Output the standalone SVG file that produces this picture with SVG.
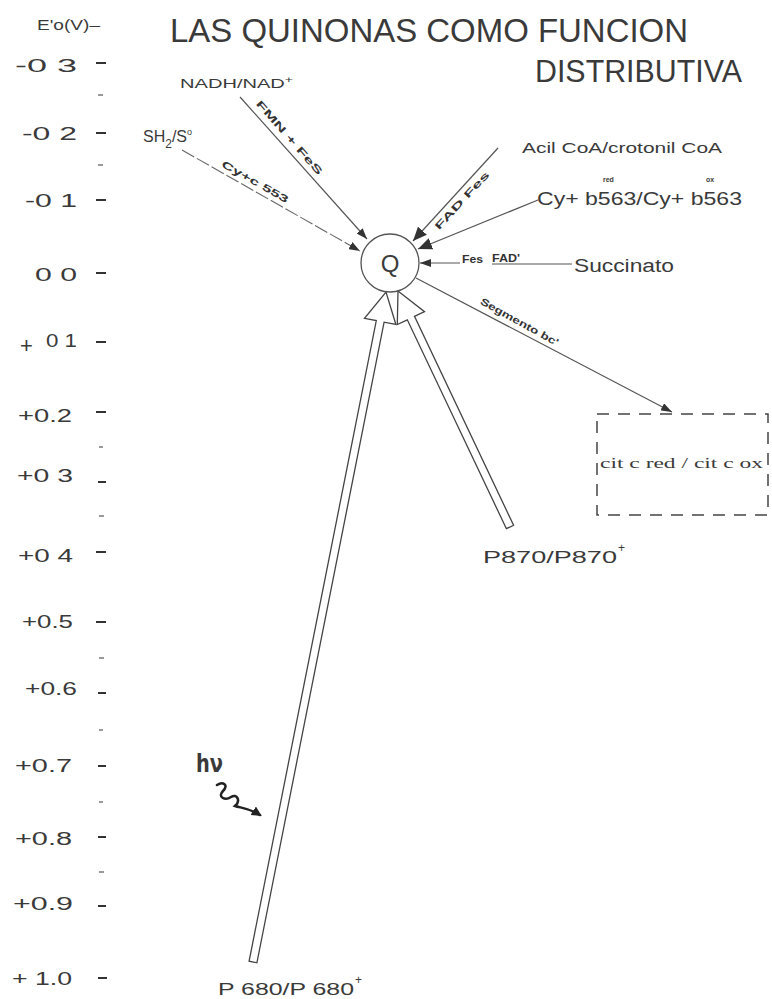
<svg xmlns="http://www.w3.org/2000/svg" width="772" height="999" viewBox="0 0 772 999">
<defs>
<style>
text{font-family:"Liberation Sans","DejaVu Sans",sans-serif;fill:#3a3a3a}
.ax{font-size:18px}
.tick{stroke:#333;stroke-width:2}
.mtick{stroke:#555;stroke-width:1.2}
.lbl{font-size:10px;font-weight:bold;fill:#333}
.ln{stroke:#555;stroke-width:1.2;fill:none}
.hollow{stroke:#444;stroke-width:1.3;fill:none;stroke-linejoin:miter}
</style>
<marker id="arr" viewBox="0 0 11 8" refX="11" refY="4" markerUnits="userSpaceOnUse" markerWidth="11" markerHeight="8" orient="auto">
<path d="M0,0 L11,4 L0,8 z" fill="#333"/>
</marker>
<marker id="arrB" viewBox="0 0 14 12" refX="14" refY="6" markerUnits="userSpaceOnUse" markerWidth="14" markerHeight="12" orient="auto">
<path d="M0,0 L14,6 L0,12 z" fill="#333"/>
</marker>
<marker id="arrW" viewBox="0 0 10 10" refX="8" refY="5" markerUnits="userSpaceOnUse" markerWidth="10" markerHeight="10" orient="auto">
<path d="M0,0 L10,5 L0,10 z" fill="#222"/>
</marker>
</defs>
<rect width="772" height="999" fill="#ffffff"/>

<g id="title">
<text x="170" y="42" font-size="33" textLength="518" lengthAdjust="spacingAndGlyphs">LAS QUINONAS COMO FUNCION</text>
<text x="535" y="82" font-size="31" textLength="207" lengthAdjust="spacingAndGlyphs">DISTRIBUTIVA</text>
</g>

<g id="axis">
<text x="37" y="30" font-size="14" textLength="63" lengthAdjust="spacingAndGlyphs">E'o(V)–</text>
<text class="ax" x="15" y="72" textLength="62" lengthAdjust="spacingAndGlyphs">-0 3</text>
<text class="ax" x="22" y="140" textLength="55" lengthAdjust="spacingAndGlyphs">-0 2</text>
<text class="ax" x="25" y="207" textLength="52" lengthAdjust="spacingAndGlyphs">-0 1</text>
<text class="ax" x="35" y="281" textLength="42" lengthAdjust="spacingAndGlyphs">0 0</text>
<text x="20" y="353" font-size="22">+</text>
<text class="ax" x="46" y="347" textLength="31" lengthAdjust="spacingAndGlyphs">0 1</text>
<text class="ax" x="18" y="422" textLength="54" lengthAdjust="spacingAndGlyphs">+0.2</text>
<text class="ax" x="17" y="482" textLength="56" lengthAdjust="spacingAndGlyphs">+0 3</text>
<text class="ax" x="18" y="562" textLength="55" lengthAdjust="spacingAndGlyphs">+0 4</text>
<text class="ax" x="22" y="628" textLength="51" lengthAdjust="spacingAndGlyphs">+0.5</text>
<text class="ax" x="25" y="695" textLength="52" lengthAdjust="spacingAndGlyphs">+0.6</text>
<text class="ax" x="15" y="772" textLength="57" lengthAdjust="spacingAndGlyphs">+0.7</text>
<text class="ax" x="15" y="845" textLength="57" lengthAdjust="spacingAndGlyphs">+0.8</text>
<text class="ax" x="13" y="910" textLength="60" lengthAdjust="spacingAndGlyphs">+0.9</text>
<text class="ax" x="12" y="985" textLength="60" lengthAdjust="spacingAndGlyphs">+ 1.0</text>
<g class="tick">
<line x1="96" y1="63" x2="106" y2="63"/>
<line x1="96" y1="133" x2="106" y2="133"/>
<line x1="96" y1="200" x2="106" y2="200"/>
<line x1="96" y1="273" x2="106" y2="273"/>
<line x1="96" y1="342" x2="106" y2="342"/>
<line x1="96" y1="412" x2="106" y2="412"/>
<line x1="98" y1="482" x2="106" y2="482"/>
<line x1="96" y1="552" x2="106" y2="552"/>
<line x1="96" y1="622" x2="106" y2="622"/>
<line x1="98" y1="693" x2="106" y2="693"/>
<line x1="98" y1="766" x2="106" y2="766"/>
<line x1="98" y1="837" x2="106" y2="837"/>
<line x1="98" y1="906" x2="106" y2="906"/>
<line x1="98" y1="978" x2="107" y2="978"/>
</g>
<g class="mtick">
<line x1="98" y1="95" x2="103" y2="95"/>
<line x1="98" y1="165" x2="103" y2="165"/>
<line x1="99" y1="447" x2="103" y2="447"/>
<line x1="99" y1="516" x2="104" y2="516"/>
<line x1="99" y1="658" x2="104" y2="658"/>
<line x1="99" y1="730" x2="103" y2="730"/>
<line x1="99" y1="802" x2="103" y2="802"/>
<line x1="99" y1="872" x2="104" y2="872"/>
</g>
</g>

<g id="connectors">
<line class="ln" x1="240" y1="97" x2="367" y2="239" marker-end="url(#arr)"/>
<path d="M182,150 L360,251" stroke="#666" stroke-width="1.1" stroke-dasharray="14 3" fill="none" marker-end="url(#arr)"/>
<line class="ln" x1="498" y1="148" x2="413" y2="241" marker-end="url(#arrB)"/>
<line class="ln" x1="538" y1="200" x2="418" y2="249" marker-end="url(#arrB)"/>
<line class="ln" x1="460" y1="263" x2="420" y2="263" marker-end="url(#arr)"/>
<line class="ln" x1="492" y1="264" x2="572" y2="264"/>
<line class="ln" x1="416" y1="278" x2="672" y2="412" marker-end="url(#arr)"/>
<polygon class="hollow" points="249.1,961.2 376.3,320.6 364.5,318.3 386,292 395.9,324.5 384.1,322.2 256.9,962.8"/>
<polygon class="hollow" points="506.4,528.7 407.3,319.8 397.3,324.5 398,291 424.5,311.7 414.5,316.4 513.6,525.3"/>
<path d="M217,785 c6,-4 12,0 6,6 c-6,6 2,10 8,6 c6,-4 10,4 4,9 c6,2 14,2 25,9" stroke="#222" stroke-width="2.5" fill="none" stroke-linecap="round" marker-end="url(#arrW)"/>
</g>

<g id="connector-labels">
<text class="lbl" transform="translate(283,143) rotate(48.9)" text-anchor="middle" dy="-5" textLength="95" lengthAdjust="spacingAndGlyphs">FMN + FeS</text>
<text class="lbl" transform="translate(251,189) rotate(29.6)" text-anchor="middle" dy="-5" textLength="75" lengthAdjust="spacingAndGlyphs">Cy+c 553</text>
<text class="lbl" transform="translate(455,194) rotate(-47.3)" text-anchor="middle" dy="13" textLength="75" lengthAdjust="spacingAndGlyphs">FAD   Fes</text>
<text class="lbl" x="462" y="263" textLength="21" lengthAdjust="spacingAndGlyphs">Fes</text>
<text class="lbl" x="492" y="262" textLength="28" lengthAdjust="spacingAndGlyphs">FAD'</text>
<text class="lbl" transform="translate(515,330) rotate(29)" text-anchor="middle" dy="-6" textLength="88" lengthAdjust="spacingAndGlyphs">Segmento bc'</text>
</g>

<g id="node-Q">
<circle cx="390" cy="263" r="29" fill="none" stroke="#555" stroke-width="1.3"/>
<text x="390" y="272" font-size="24" text-anchor="middle">Q</text>
</g>

<g id="node-nadh">
<text x="180" y="88" font-size="13" textLength="113" lengthAdjust="spacingAndGlyphs">NADH/NAD<tspan font-size="9" dy="-5">+</tspan></text>
</g>

<g id="node-sh2">
<text x="143" y="142" font-size="16">SH<tspan font-size="12" dy="6">2</tspan><tspan dy="-6">/S</tspan><tspan font-size="9" dy="-7">o</tspan></text>
</g>

<g id="node-acil">
<text x="522" y="153" font-size="15" textLength="200" lengthAdjust="spacingAndGlyphs">Acil CoA/crotonil CoA</text>
</g>

<g id="node-cyb563">
<text x="537" y="205" font-size="18" textLength="205" lengthAdjust="spacingAndGlyphs">Cy+ b563/Cy+ b563</text>
<text x="603" y="182" font-size="7" font-weight="bold">red</text>
<text x="706" y="182" font-size="7" font-weight="bold">ox</text>
</g>

<g id="node-succinato">
<text x="574" y="272" font-size="18" textLength="100" lengthAdjust="spacingAndGlyphs">Succinato</text>
</g>

<g id="node-citc">
<rect x="597" y="414" width="171" height="101" fill="none" stroke="#444" stroke-width="1.5" stroke-dasharray="12 9"/>
<text x="600" y="468" font-size="14" style="font-family:'Liberation Serif',serif" textLength="163" lengthAdjust="spacingAndGlyphs">cit c red / cit c ox</text>
</g>

<g id="node-p870">
<text x="483" y="563" font-size="17" textLength="134" lengthAdjust="spacingAndGlyphs">P870/P870</text>
<text x="618" y="552" font-size="12">+</text>
</g>

<g id="node-p680">
<text x="218" y="995" font-size="17" textLength="136" lengthAdjust="spacingAndGlyphs">P 680/P 680</text>
<text x="355" y="984" font-size="12">+</text>
</g>

<g id="hv">
<text x="196" y="772" font-size="24" font-weight="bold" style="font-family:'DejaVu Sans',sans-serif" textLength="27" lengthAdjust="spacingAndGlyphs">hν</text>
</g>
</svg>
